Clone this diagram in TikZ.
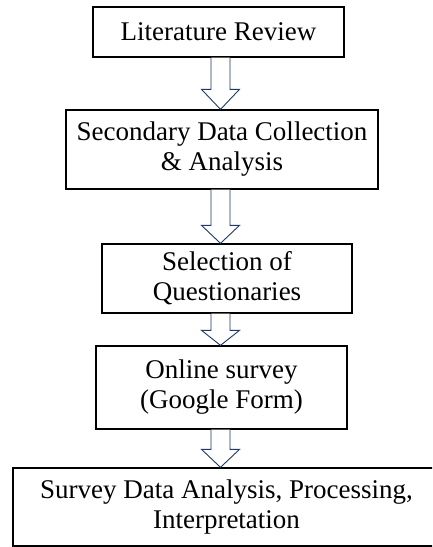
\documentclass[tikz,border=0pt]{standalone}
\usepackage{fontspec}
\setmainfont{Liberation Serif}
\usetikzlibrary{calc}
\definecolor{navy}{HTML}{1F3864}
\tikzset{
  box/.style={draw=black, line width=1.3pt, fill=white, align=center, inner sep=0pt,
    font=\fontsize{27}{30}\selectfont},
  barrow/.style={draw=navy, line width=0.9pt, fill=white, line join=miter}
}
\newcommand{\blockarrow}[3]{%
  \draw[barrow] ($(#1.south -| ax)+(-9.5,0)$) -- ($(#2.north -| ax)+(-9.5,-#3)$)
    -- ($(#2.north -| ax)+(-19,-#3)$) -- (#2.north -| ax)
    -- ($(#2.north -| ax)+(19,-#3)$) -- ($(#2.north -| ax)+(9.5,-#3)$)
    -- ($(#1.south -| ax)+(9.5,0)$);%
}
\begin{document}
\begin{tikzpicture}[x=1pt,y=-1pt]
\useasboundingbox (0,0) rectangle (432,547);
\clip (0,0) rectangle (432,547);
\fill[white] (0,0) rectangle (432,547);
\coordinate (ax) at (220.5,0);
\node[box, minimum width=251pt, minimum height=50pt] (b1) at (218.5,32) {Literature Review};
\node[box, minimum width=312pt, minimum height=79pt] (b2) at (222,149.5) {Secondary Data Collection\\ \& Analysis};
\node[box, minimum width=250pt, minimum height=69pt] (b3) at (227,278.5) {Selection of\\Questionaries};
\node[box, minimum width=251pt, minimum height=83pt] (b4) at (221.5,387.5) {Online survey\\(Google Form)};
\node[box, minimum width=427pt, minimum height=78pt] (b5) at (226.5,507) {Survey Data Analysis, Processing,\\Interpretation};
\blockarrow{b1}{b2}{20}
\blockarrow{b2}{b3}{18}
\blockarrow{b3}{b4}{15}
\blockarrow{b4}{b5}{18}
\end{tikzpicture}
\end{document}
